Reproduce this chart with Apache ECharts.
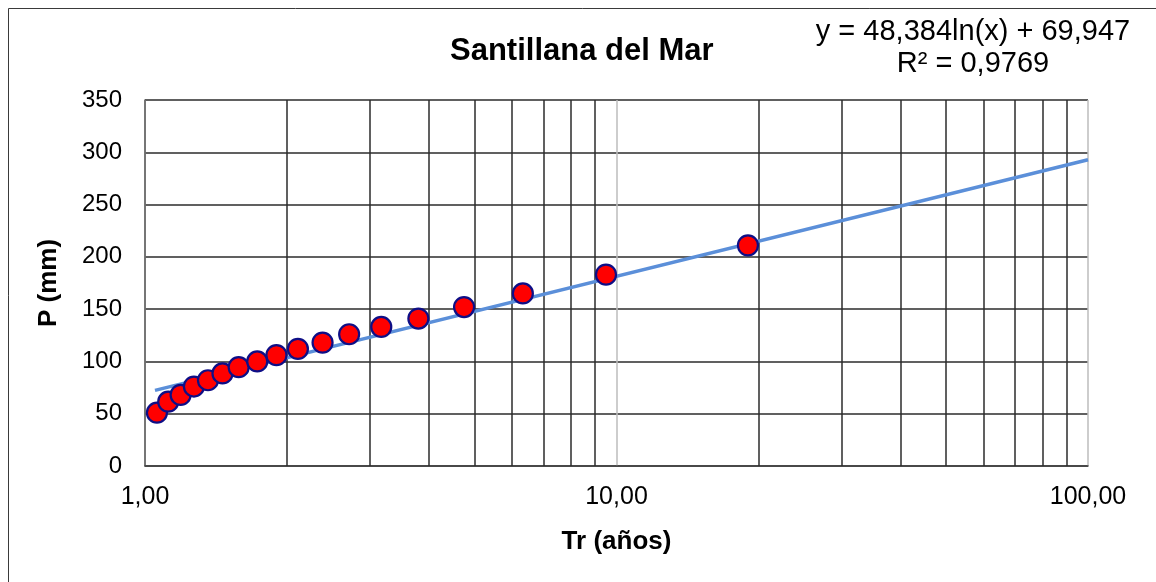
<!DOCTYPE html>
<html>
<head>
<meta charset="utf-8">
<script src="https://cdn.jsdelivr.net/npm/echarts@6/dist/echarts.min.js"></script>
<style>
  html, body { margin: 0; padding: 0; background: #fff; }
  #chart { width: 1156px; height: 582px; }
</style>
</head>
<body>
<div id="chart"></div>
<script>
// Return period (years) and precipitation (mm)
const trYears = [1.06, 1.12, 1.19, 1.27, 1.36, 1.46, 1.58, 1.73, 1.90, 2.11, 2.38, 2.71, 3.17, 3.80, 4.75, 6.33, 9.50, 19.0];
const pMm     = [51, 61.5, 68, 76, 82, 88.5, 94.5, 100, 106, 112, 118, 126, 133, 141, 152, 165, 183, 211];
// Logarithmic trend line end points (y = 48,384 ln(x) + 69,947)
const trendX = [1.05, 100];
const trendY = [72.3, 292.8];
// Minor vertical grid lines of the log axis
const minorGridX = [2, 3, 4, 5, 6, 7, 8, 9, 20, 30, 40, 50, 60, 70, 80, 90];
const titleText = 'Santillana del Mar';
const equationText = 'y = 48,384ln(x) + 69,947\nR² = 0,9769';
const xName = 'Tr (años)';
const yName = 'P (mm)';

const FONT = 'Liberation Sans, Arial, sans-serif';
const chart = echarts.init(document.getElementById('chart'), null, { renderer: 'canvas' });

const option = {
  backgroundColor: '#ffffff',
  animation: false,
  title: {
    text: titleText,
    left: 445,
    top: 31,
    textStyle: { fontFamily: FONT, fontSize: 31, fontWeight: 'bold', color: '#000' }
  },
  graphic: [
    {
      type: 'rect',
      shape: { x: 8.5, y: 8.5, width: 1200, height: 700 },
      style: { fill: 'none', stroke: '#3a3a3a', lineWidth: 1 },
      silent: true, z: -1
    },
    {
      type: 'text',
      x: 973, y: 16,
      style: {
        text: equationText,
        align: 'center',
        font: '29px ' + FONT,
        lineHeight: 32,
        fill: '#000'
      }
    }
  ],
  grid: { left: 145, right: 68, top: 100, bottom: 116, containLabel: false },
  xAxis: {
    type: 'log',
    logBase: 10,
    min: 1,
    max: 100,
    name: xName,
    nameLocation: 'middle',
    nameGap: 63,
    nameTextStyle: { fontFamily: FONT, fontSize: 26, fontWeight: 'bold', color: '#000' },
    axisLine: { show: true, lineStyle: { color: '#404040', width: 1.5 } },
    axisTick: { show: false },
    axisLabel: {
      fontFamily: FONT, fontSize: 25, color: '#000', margin: 19,
      formatter: v => Number(v).toFixed(2).replace('.', ',')
    },
    splitLine: { show: true, lineStyle: { color: '#bdbdbd', width: 1.5 } }
  },
  yAxis: {
    type: 'value',
    min: 0,
    max: 350,
    interval: 50,
    name: yName,
    nameLocation: 'middle',
    nameGap: 83,
    nameTextStyle: { fontFamily: FONT, fontSize: 26, fontWeight: 'bold', color: '#000' },
    axisLine: { show: true, lineStyle: { color: '#595959', width: 1.5 } },
    axisTick: { show: false },
    axisLabel: { fontFamily: FONT, fontSize: 24, color: '#000', margin: 23 },
    splitLine: { show: true, lineStyle: { color: '#2b2b2b', width: 1.5 } }
  },
  series: [
    {
      type: 'line',
      data: [],
      z: 1,
      silent: true,
      markLine: {
        silent: true,
        z: 1,
        symbol: 'none',
        label: { show: false },
        emphasis: { disabled: true },
        lineStyle: { color: '#2b2b2b', width: 1.5, type: 'solid' },
        data: minorGridX.map(v => ({ xAxis: v }))
      }
    },
    {
      type: 'line',
      name: 'trend',
      z: 3,
      silent: true,
      showSymbol: false,
      lineStyle: { color: '#5b8fd9', width: 3.5 },
      data: trendX.map((x, i) => [x, trendY[i]])
    },
    {
      type: 'scatter',
      name: 'P',
      z: 4,
      symbol: 'circle',
      symbolSize: 20,
      itemStyle: { color: '#ff0000', borderColor: '#0e0e86', borderWidth: 2.2, opacity: 1 },
      data: trYears.map((x, i) => [x, pMm[i]])
    }
  ]
};
chart.setOption(option);
</script>
</body>
</html>
